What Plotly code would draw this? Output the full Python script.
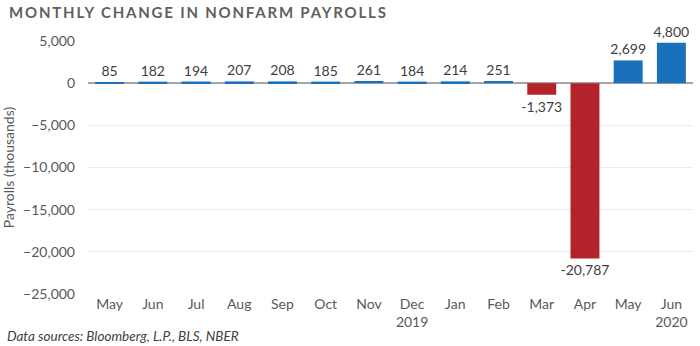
import plotly.graph_objects as go

months = ["May", "Jun", "Jul", "Aug", "Sep", "Oct", "Nov", "Dec<br>2019",
          "Jan", "Feb", "Mar", "Apr", "May", "Jun<br>2020"]
payrolls = [85, 182, 194, 207, 208, 185, 261, 184, 214, 251, -1373, -20787, 2699, 4800]
y_ticks = [5000, 0, -5000, -10000, -15000, -20000, -25000]

BLUE = "#1a70bb"
RED = "#b3242a"
colors = [BLUE if v >= 0 else RED for v in payrolls]
x_pos = list(range(len(months)))

fig = go.Figure(go.Bar(
    x=x_pos,
    y=payrolls,
    marker=dict(color=colors, line=dict(width=0)),
    text=[f"{v:,}" for v in payrolls],
    textposition="outside",
    constraintext="none",
    textfont=dict(family="Lato", size=14, color="#404040"),
    cliponaxis=False,
    width=0.67,
))

fig.update_layout(
    width=700, height=346,
    margin=dict(l=85, r=7, t=41, b=52),
    plot_bgcolor="white", paper_bgcolor="white",
    showlegend=False,
    font=dict(family="Lato", size=13, color="#595959"),
    xaxis=dict(
        tickmode="array", tickvals=x_pos, ticktext=months,
        range=[-0.5, len(months) - 0.5],
        showgrid=False, showline=False, ticks="",
        tickfont=dict(size=14, color="#595959"),
    ),
    yaxis=dict(
        range=[-25000, 5000],
        tickmode="array", tickvals=y_ticks,
        tickformat=",d",
        showgrid=True, gridcolor="#ececec", gridwidth=1,
        zeroline=True, zerolinecolor="#a6a6a6", zerolinewidth=1.5,
        showline=False, ticks="",
        ticklabelstandoff=12,
        tickfont=dict(size=14, color="#595959"),
        title=dict(text="Payrolls (thousands)", standoff=6,
                   font=dict(size=14, color="#595959")),
    ),
    annotations=[
        dict(text="<b>MONTHLY CHANGE IN NONFARM PAYROLLS</b>",
             xref="paper", yref="paper", x=-81/608, y=1 + 29/253,
             xanchor="left", yanchor="middle", showarrow=False,
             font=dict(size=15, color="#5f5f5f", family="Lato")),
        dict(text="<i>Data sources: Bloomberg, L.P., BLS, NBER</i>",
             xref="paper", yref="paper", x=-83/608, y=-42/253,
             xanchor="left", yanchor="middle", showarrow=False,
             font=dict(size=13.5, color="#404040", family="Lato")),
    ],
)

# Widen the tracking of the heading text, keeping its left edge in place
spacing_js = """
var gd = document.getElementById('{plot_id}');
function spaceTitle() {
  gd.querySelectorAll('.annotation-text').forEach(function (t) {
    if (t.textContent.indexOf('MONTHLY') !== 0) return;
    if (t.getAttribute('data-spaced') === '1') return;
    var left0 = t.getBBox().x;
    t.style.letterSpacing = '1.8px';
    var left1 = t.getBBox().x;
    var x = parseFloat(t.getAttribute('x') || '0');
    t.setAttribute('x', x + (left0 - left1));
    t.setAttribute('data-spaced', '1');
  });
}
spaceTitle();
gd.on('plotly_afterplot', spaceTitle);
"""

fig.write_html("out.html", post_script=spacing_js)
